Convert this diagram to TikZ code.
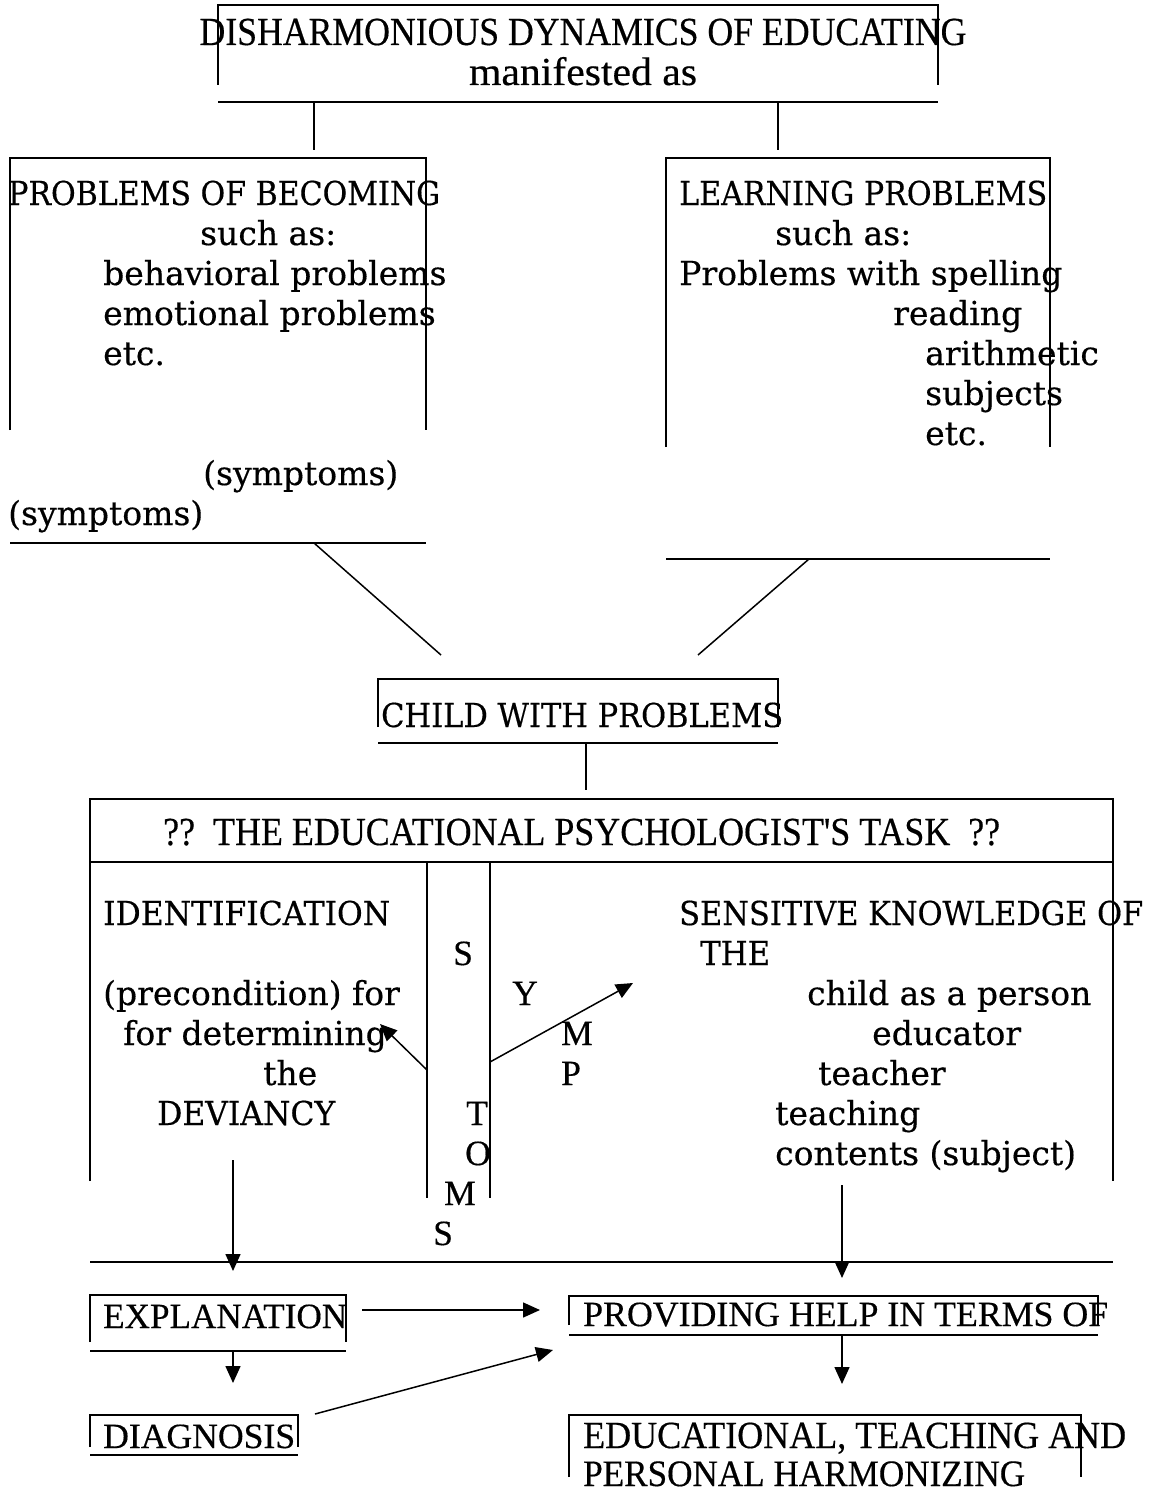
\documentclass[tikz,border=0pt]{standalone}
\usepackage{fontspec}
\usepackage{graphicx}
\setmainfont[FakeBold=0.4]{DejaVu Serif}
\newfontfamily\tmfam[FakeBold=0.4]{Liberation Serif}
\usetikzlibrary{arrows.meta}
\newcommand\lufnt{\fontsize{33}{40}\selectfont}
\newcommand\tmfnt{\tmfam\fontsize{35.5}{40}\selectfont}
\newcommand\fw[3][1]{\resizebox{#2pt}{#1\height}{#3}}
\tikzset{
  lu/.style={font=\lufnt,anchor=base west,inner sep=0pt},
  tm/.style={font=\tmfnt,anchor=base west,inner sep=0pt},
  ln/.style={line width=1.5pt},
  arr/.style={line width=1.5pt,-{Triangle[length=17pt,width=15pt]}},
}
\begin{document}
\begin{tikzpicture}[x=1pt,y=-1pt]
\useasboundingbox (0,0) rectangle (1149,1493);
% ---------- top box
\draw[ln] (218,85) -- (218,5) -- (938,5) -- (938,85);
\draw[ln] (218,102) -- (938,102);
\node[tm,anchor=base] (title) at (583,45) {\fw[1.12]{767}{DISHARMONIOUS DYNAMICS OF EDUCATING}};
\node[tm,anchor=base] (manif) at (583,85) {\fw[1.12]{228}{manifested as}};
\coordinate (tL) at (314,102); \coordinate (tLe) at (314,150);
\coordinate (tR) at (778,102); \coordinate (tRe) at (778,150);
\draw[ln] (tL) -- (tLe);
\draw[ln] (tR) -- (tRe);
% ---------- left box
\draw[ln] (10,430) -- (10,158) -- (426,158) -- (426,430);
\draw[ln] (10,543) -- (426,543);
\node[lu] (pb1) at (8,205) {\fw{432}{PROBLEMS OF BECOMING}};
\node[lu] (pb2) at (200,245) {such as:};
\node[lu] (pb3) at (103,285) {behavioral problems};
\node[lu] (pb4) at (103,325) {emotional problems};
\node[lu] (pb5) at (103,365) {etc.};
\node[lu] (sy1) at (203,485) {(symptoms)};
\node[lu] (sy2) at (8,525) {(symptoms)};
% ---------- right box
\draw[ln] (666,447) -- (666,158) -- (1050,158) -- (1050,447);
\draw[ln] (666,559) -- (1050,559);
\node[lu] (lp1) at (679,205) {\fw{368}{LEARNING PROBLEMS}};
\node[lu] (lp2) at (775,245) {such as:};
\node[lu] (lp3) at (679,285) {Problems with spelling};
\node[lu] (lp4) at (893,325) {reading};
\node[lu] (lp5) at (925,365) {arithmetic};
\node[lu] (lp6) at (925,405) {subjects};
\node[lu] (lp7) at (925,445) {etc.};
% ---------- diagonals to child
\coordinate (dL1) at (314,543); \coordinate (dL2) at (441,655);
\coordinate (dR1) at (809,559); \coordinate (dR2) at (698,655);
\draw[ln] (dL1) -- (dL2);
\draw[ln] (dR1) -- (dR2);
% ---------- child box
\draw[ln] (378,727) -- (378,679) -- (778,679) -- (778,727);
\draw[ln] (378,743) -- (778,743);
\node[lu] (child) at (381,727) {\fw{402}{CHILD WITH PROBLEMS}};
\coordinate (c1) at (586,743); \coordinate (c2) at (586,790);
\draw[ln] (c1) -- (c2);
% ---------- task box
\draw[ln] (90,1181) -- (90,799) -- (1113,799) -- (1113,1181);
\draw[ln] (90,862) -- (1113,862);
\draw[ln] (427,862) -- (427,1198);
\draw[ln] (490,862) -- (490,1198);
\node[tm] (task) at (163,845) {\fw[1.12]{837}{??\ \ THE EDUCATIONAL PSYCHOLOGIST'S TASK\ \ ??}};
\node[lu] (id1) at (103,925) {\fw{287}{IDENTIFICATION}};
\node[lu] (id2) at (103,1005) {(precondition) for};
\node[lu] (id3) at (123,1045) {for determining};
\node[lu] (id4) at (263,1085) {the};
\node[lu] (id5) at (157,1125) {\fw{178}{DEVIANCY}};
\node[tm] (s1) at (453,965) {S};
\node[tm] (s2) at (512,1005) {Y};
\node[tm] (s3) at (561,1045) {M};
\node[tm] (s4) at (561,1085) {P};
\node[tm] (s5) at (466,1125) {T};
\node[tm] (s6) at (465,1165) {O};
\node[tm] (s7) at (444,1205) {M};
\node[tm] (s8) at (433,1245) {S};
\node[lu] (sk1) at (679,925) {\fw{464}{SENSITIVE KNOWLEDGE OF}};
\node[lu] (sk2) at (700,965) {\fw{70}{THE}};
\node[lu] (sk3) at (807,1005) {child as a person};
\node[lu] (sk4) at (872,1045) {educator};
\node[lu] (sk5) at (818,1085) {teacher};
\node[lu] (sk6) at (775,1125) {teaching};
\node[lu] (sk7) at (775,1165) {contents (subject)};
\coordinate (aL1) at (427,1070); \coordinate (aL2) at (380,1024);
\coordinate (aR1) at (490,1062); \coordinate (aR2) at (633,983);
\draw[arr] (aL1) -- (aL2);
\draw[arr] (aR1) -- (aR2);
\coordinate (v1a) at (233,1160); \coordinate (v1b) at (233,1271);
\coordinate (v2a) at (842,1185); \coordinate (v2b) at (842,1278);
\draw[arr] (v1a) -- (v1b);
\draw[arr] (v2a) -- (v2b);
\draw[ln] (90,1262) -- (1113,1262);
% ---------- explanation / diagnosis
\draw[ln] (90,1342) -- (90,1295) -- (346,1295) -- (346,1342);
\draw[ln] (90,1351) -- (346,1351);
\node[tm] (expl) at (103,1328) {\fw{244}{EXPLANATION}};
\draw[ln] (90,1447) -- (90,1415) -- (298,1415) -- (298,1447);
\draw[ln] (90,1455) -- (298,1455);
\node[tm] (diag) at (103,1448) {\fw{192}{DIAGNOSIS}};
% ---------- providing help
\draw[ln] (569,1325) -- (569,1296) -- (1098,1296) -- (1098,1325);
\draw[ln] (569,1335) -- (1098,1335);
\node[tm] (help) at (583,1326) {\fw{525}{PROVIDING HELP IN TERMS OF}};
\draw[ln] (569,1477) -- (569,1415) -- (1081,1415) -- (1081,1477);
\node[tm] (harm1) at (583,1448) {\fw[1.08]{543}{EDUCATIONAL, TEACHING AND}};
\node[tm] (harm2) at (583,1486) {\fw[1.05]{442}{PERSONAL HARMONIZING}};
% ---------- lower arrows
\coordinate (e1) at (362,1310); \coordinate (e2) at (540,1310);
\coordinate (e3) at (233,1351); \coordinate (e4) at (233,1383);
\coordinate (d1) at (315,1414); \coordinate (d2) at (553,1350);
\coordinate (h1) at (842,1335); \coordinate (h2) at (842,1384);
\draw[arr] (e1) -- (e2);
\draw[arr] (e3) -- (e4);
\draw[arr] (d1) -- (d2);
\draw[arr] (h1) -- (h2);
\end{tikzpicture}
\end{document}
